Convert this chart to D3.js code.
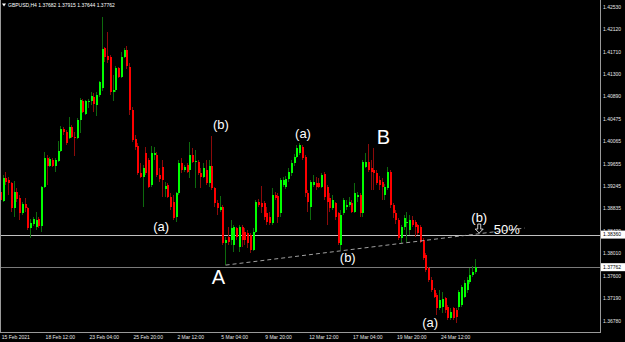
<!DOCTYPE html>
<html>
<head>
<meta charset="utf-8">
<script src="https://cdn.jsdelivr.net/npm/d3@7"></script>
<style>
  html, body { margin: 0; padding: 0; background: #000; }
  svg { display: block; }
  text { font-family: "Liberation Sans", Arial, sans-serif; }
</style>
</head>
<body>
<div id="chart"></div>
<script>
// GBPUSD H4, one value per bar (bar 0 = 15 Feb 2021 20:00)
var open = [
  1.3914,1.3898,1.3940,1.3936,1.3931,1.3885,1.3914,1.3903,1.3876,1.3892,
  1.3885,1.3848,1.3855,1.3850,1.3865,1.3852,1.3923,1.3977,1.3962,1.3973,
  1.3962,1.3971,1.3989,1.4030,1.4024,1.4013,1.4033,1.4015,1.4013,1.4046,
  1.4081,1.4057,1.4079,1.4081,1.4088,1.4074,1.4092,1.4105,1.4178,1.4164,
  1.4162,1.4098,1.4101,1.4142,1.4125,1.4162,1.4175,1.4143,1.4065,1.4011,
  1.3999,1.3949,1.3942,1.3986,1.3973,1.3927,1.3982,1.3982,1.3945,1.3960,
  1.3920,1.3927,1.3905,1.3896,1.3868,1.3912,1.3967,1.3955,1.3964,1.3955,
  1.3982,1.3969,1.3969,1.3949,1.3942,1.3955,1.3931,1.3962,1.3921,1.3894,
  1.3881,1.3887,1.3821,1.3832,1.3826,1.3817,1.3848,1.3813,1.3850,1.3841,
  1.3839,1.3835,1.3808,1.3841,1.3896,1.3894,1.3894,1.3876,1.3868,1.3857,
  1.3909,1.3907,1.3876,1.3927,1.3923,1.3938,1.3949,1.3967,1.3978,1.3986,
  1.3997,1.3978,1.3912,1.3887,1.3927,1.3931,1.3931,1.3923,1.3947,1.3923,
  1.3903,1.3885,1.3894,1.3876,1.3817,1.3876,1.3887,1.3890,1.3894,1.3877,
  1.3905,1.3909,1.3876,1.3960,1.3969,1.3958,1.3955,1.3949,1.3936,1.3932,
  1.3909,1.3921,1.3951,1.3890,1.3876,1.3863,1.3830,1.3850,1.3857,1.3844,
  1.3863,1.3859,1.3854,1.3850,1.3826,1.3799,1.3775,1.3753,1.3734,1.3725,
  1.3701,1.3703,1.3720,1.3703,1.3683,1.3701,1.3698,1.3703,1.3707,1.3722,
  1.3734,1.3749,1.3762,1.37682];
var high = [
  1.3918,1.3945,1.3951,1.3942,1.3932,1.3934,1.3921,1.3909,1.3896,1.3903,
  1.3887,1.3865,1.3868,1.3877,1.3868,1.3925,1.3988,1.3982,1.3978,1.3977,
  1.3977,1.4008,1.4035,1.4033,1.4028,1.4052,1.4037,1.4024,1.4050,1.4087,
  1.4085,1.4083,1.4085,1.4098,1.4096,1.4098,1.4118,1.4235,1.4180,1.4208,
  1.4166,1.4129,1.4145,1.4143,1.4171,1.4178,1.4182,1.4151,1.4070,1.4019,
  1.4004,1.3967,1.3964,1.3997,1.3977,1.3999,1.3997,1.3988,1.3958,1.3973,
  1.3932,1.3931,1.3912,1.3909,1.3914,1.3973,1.3977,1.3964,1.3967,1.4006,
  1.3995,1.3991,1.3973,1.3958,1.3967,1.3973,1.3973,1.4017,1.3923,1.3899,
  1.3907,1.3890,1.3832,1.3850,1.3863,1.3854,1.3850,1.3854,1.3854,1.3848,
  1.3844,1.3839,1.3848,1.3899,1.3901,1.3925,1.3898,1.3887,1.3877,1.3921,
  1.3914,1.3912,1.3940,1.3942,1.3943,1.3958,1.3973,1.3984,1.4000,1.4004,
  1.4000,1.3982,1.3918,1.3936,1.3945,1.3942,1.3940,1.3949,1.3951,1.3927,
  1.3912,1.3909,1.3896,1.3877,1.3881,1.3903,1.3899,1.3905,1.3899,1.3931,
  1.3914,1.3912,1.3973,1.3986,1.4002,1.3973,1.3995,1.3955,1.3943,1.3940,
  1.3929,1.3960,1.3955,1.3894,1.3881,1.3866,1.3854,1.3872,1.3877,1.3872,
  1.3870,1.3863,1.3855,1.3854,1.3830,1.3802,1.3776,1.3758,1.3738,1.3729,
  1.3734,1.3731,1.3722,1.3707,1.3701,1.3703,1.3701,1.3734,1.3743,1.3753,
  1.3758,1.3775,1.3778,1.37915];
var low = [
  1.3896,1.3896,1.3927,1.3909,1.3877,1.3868,1.3896,1.3863,1.3872,1.3877,
  1.3844,1.3830,1.3852,1.3844,1.3848,1.3841,1.3921,1.3927,1.3960,1.3960,
  1.3951,1.3969,1.3988,1.4019,1.4000,1.4011,1.4013,1.3980,1.4011,1.4022,
  1.4059,1.4055,1.4068,1.4074,1.4061,1.4054,1.4088,1.4099,1.4153,1.4151,
  1.4092,1.4081,1.4098,1.4123,1.4123,1.4160,1.4140,1.4055,1.4006,1.3991,
  1.3945,1.3940,1.3887,1.3945,1.3921,1.3923,1.3973,1.3942,1.3932,1.3905,
  1.3905,1.3903,1.3881,1.3863,1.3859,1.3909,1.3949,1.3951,1.3949,1.3940,
  1.3967,1.3921,1.3945,1.3921,1.3940,1.3927,1.3923,1.3918,1.3887,1.3872,
  1.3877,1.3817,1.3780,1.3817,1.3817,1.3804,1.3826,1.3804,1.3813,1.3817,
  1.3811,1.3802,1.3806,1.3839,1.3887,1.3876,1.3863,1.3854,1.3854,1.3854,
  1.3899,1.3857,1.3868,1.3923,1.3920,1.3932,1.3943,1.3962,1.3977,1.3982,
  1.3973,1.3905,1.3877,1.3863,1.3923,1.3918,1.3921,1.3921,1.3899,1.3854,
  1.3877,1.3881,1.3863,1.3817,1.3808,1.3872,1.3881,1.3887,1.3876,1.3876,
  1.3896,1.3868,1.3868,1.3958,1.3951,1.3918,1.3918,1.3927,1.3918,1.3899,
  1.3899,1.3918,1.3885,1.3866,1.3855,1.3826,1.3821,1.3844,1.3822,1.3835,
  1.3850,1.3832,1.3835,1.3821,1.3789,1.3767,1.3749,1.3731,1.3720,1.3688,
  1.3698,1.3692,1.3692,1.3679,1.3679,1.3679,1.3674,1.3698,1.3703,1.3720,
  1.3729,1.3745,1.3758,1.37644];
var close = [
  1.3899,1.3940,1.3932,1.3931,1.3885,1.3914,1.3901,1.3876,1.3892,1.3885,
  1.3848,1.3857,1.3865,1.3863,1.3852,1.3923,1.3977,1.3962,1.3975,1.3962,
  1.3973,1.3989,1.4030,1.4024,1.4004,1.4033,1.4015,1.4013,1.4046,1.4083,
  1.4061,1.4081,1.4081,1.4090,1.4076,1.4092,1.4116,1.4177,1.4162,1.4156,
  1.4098,1.4101,1.4142,1.4125,1.4162,1.4175,1.4145,1.4065,1.4010,1.3997,
  1.3949,1.3942,1.3958,1.3949,1.3923,1.3986,1.3986,1.3945,1.3938,1.3936,
  1.3925,1.3905,1.3887,1.3866,1.3912,1.3967,1.3955,1.3960,1.3951,1.3982,
  1.3969,1.3971,1.3949,1.3942,1.3958,1.3931,1.3962,1.3921,1.3894,1.3885,
  1.3887,1.3821,1.3826,1.3822,1.3848,1.3850,1.3832,1.3850,1.3826,1.3826,
  1.3821,1.3808,1.3841,1.3896,1.3890,1.3887,1.3868,1.3859,1.3857,1.3909,
  1.3903,1.3868,1.3936,1.3936,1.3938,1.3951,1.3967,1.3978,1.3995,1.4000,
  1.3977,1.3912,1.3896,1.3932,1.3932,1.3923,1.3923,1.3945,1.3905,1.3896,
  1.3885,1.3899,1.3868,1.3821,1.3872,1.3899,1.3890,1.3896,1.3877,1.3912,
  1.3909,1.3876,1.3969,1.3969,1.3955,1.3951,1.3949,1.3931,1.3927,1.3923,
  1.3923,1.3951,1.3890,1.3876,1.3863,1.3830,1.3850,1.3866,1.3859,1.3863,
  1.3854,1.3850,1.3839,1.3822,1.3793,1.3771,1.3753,1.3734,1.3722,1.3701,
  1.3716,1.3718,1.3698,1.3683,1.3694,1.3683,1.3685,1.3731,1.3740,1.3747,
  1.3753,1.3762,1.3768,1.37762];

var timeLabels = ['15 Feb 2021','18 Feb 12:00','23 Feb 04:00','25 Feb 20:00','2 Mar 12:00',
  '5 Mar 04:00','9 Mar 20:00','12 Mar 12:00','17 Mar 04:00','19 Mar 20:00','24 Mar 12:00'];
var timeLabelBars = [0,16,32,48,64,80,96,112,128,144,160];

var priceTicks = [1.42530,1.42120,1.41710,1.41300,1.40890,1.40475,1.40065,1.39655,
  1.39245,1.38835,1.38420,1.38010,1.37600,1.37190,1.36780];

var levelLine = 1.38360;      // horizontal line object
var bidLine = 1.37762;        // current price line

// trend line from A through the (b) low
var trendBars = [82, 191];
var trendPrices = [1.3780, 1.3848];

// wave labels: text, bar, price of baseline, size
var waveText  = ['(b)','(a)','B','A','(a)','(b)','(b)','50%','(a)'];
var waveBar   = [80.3, 110.2, 139.5, 79.4, 58.5, 126.5, 174.4, 184.4, 156.5];
var wavePrice = [1.4030, 1.4013, 1.4002, 1.3745, 1.3843, 1.3786, 1.3859, 1.3837, 1.3666];
var waveSize  = [13, 13, 20, 20, 13, 13, 13, 13, 13];

var W = 625, H = 342, plotR = 600, plotB = 332;

var svg = d3.select('#chart').append('svg')
    .attr('width', W).attr('height', H)
    .style('background', '#000');

var x = d3.scaleLinear().domain([0, 173]).range([0.5, 475.4]);
var y = d3.scaleLinear().domain([1.36780, 1.42530]).range([320.7, 7.3]);

svg.append('clipPath').attr('id', 'plot')
  .append('rect').attr('x', 1).attr('y', 0).attr('width', plotR - 1).attr('height', plotB);

var plot = svg.append('g').attr('clip-path', 'url(#plot)');

// horizontal lines
plot.append('line')
    .attr('x1', 0).attr('x2', plotR)
    .attr('y1', Math.round(y(levelLine)) + 0.5).attr('y2', Math.round(y(levelLine)) + 0.5)
    .attr('stroke', '#c0c0c0').attr('stroke-width', 1);
plot.append('line')
    .attr('x1', 0).attr('x2', plotR)
    .attr('y1', Math.round(y(bidLine)) + 0.5).attr('y2', Math.round(y(bidLine)) + 0.5)
    .attr('stroke', '#7a7a7a').attr('stroke-width', 1);

//candles
var bars = d3.range(open.length);
var candle = plot.selectAll('.candle')
  .data(bars)
  .enter()
  .append('g')
    .classed('candle', 1)
    .attr('shape-rendering', 'crispEdges');

candle.append('line')
    .attr('x1', function(i){ return Math.floor(x(i)) + 0.5; })
    .attr('x2', function(i){ return Math.floor(x(i)) + 0.5; })
    .attr('y1', function(i){ return y(high[i]); })
    .attr('y2', function(i){ return y(low[i]); })
    .attr('stroke', function(i){ return close[i] >= open[i] ? '#0d6a0d' : '#8c0a0a'; });

candle.append('rect')
    .attr('x', function(i){ return Math.floor(x(i)); })
    .attr('width', 2)
    .attr('y', function(i){ return y(Math.max(open[i], close[i])); })
    .attr('height', function(i){ return Math.max(1, Math.abs(y(open[i]) - y(close[i]))); })
    .attr('fill', function(i){ return close[i] >= open[i] ? '#00ff00' : '#ff0000'; });

// dashed trend line
plot.append('line')
    .attr('x1', x(trendBars[0])).attr('y1', y(trendPrices[0]))
    .attr('x2', x(trendBars[1])).attr('y2', y(trendPrices[1]))
    .attr('stroke', '#a0a0a0').attr('stroke-width', 1)
    .attr('stroke-dasharray', '4,3');

// wave labels
plot.selectAll('.wave')
  .data(waveText)
  .enter()
  .append('text')
    .classed('wave', 1)
    .attr('x', function(d, i){ return x(waveBar[i]); })
    .attr('y', function(d, i){ return y(wavePrice[i]); })
    .attr('text-anchor', 'middle')
    .attr('font-size', function(d, i){ return waveSize[i]; })
    .attr('fill', '#fff')
    .text(function(d){ return d; });

// small hollow arrow under the right (b)
var ax = x(174.4), ay = y(1.3859);
plot.append('path')
    .attr('d', 'M' + (ax - 1.5) + ',' + (ay + 2) + 'v5h-2.5l4,4l4,-4h-2.5v-5z')
    .attr('fill', 'none').attr('stroke', '#fff').attr('stroke-width', 0.8);

// frame
svg.append('path')
    .attr('d', 'M0.5,0V' + (plotB + 0.5) + 'H' + (plotR + 0.5) + 'V0')
    .attr('fill', 'none').attr('stroke', '#9a9a9a').attr('shape-rendering', 'crispEdges');

// price axis
svg.selectAll('.ptick')
  .data(priceTicks)
  .enter()
  .append('text')
    .classed('ptick', 1)
    .attr('x', 603)
    .attr('y', function(d){ return y(d) + 1.8; })
    .attr('font-size', 5)
    .attr('fill', '#e6e6e6')
    .text(function(d){ return d.toFixed(5); });

[levelLine, bidLine].forEach(function(v){
  var g = svg.append('g');
  g.append('rect')
      .attr('x', 601).attr('y', y(v) - 4)
      .attr('width', 24).attr('height', 8)
      .attr('fill', '#fff');
  g.append('text')
      .attr('x', 603).attr('y', y(v) + 1.8)
      .attr('font-size', 5).attr('fill', '#000')
      .text(v.toFixed(5));
});

// time axis
svg.selectAll('.ttick')
  .data(timeLabels)
  .enter()
  .append('text')
    .classed('ttick', 1)
    .attr('x', function(d, i){ return x(timeLabelBars[i]) + 1.2; })
    .attr('y', 338.5)
    .attr('font-size', 5)
    .attr('fill', '#e6e6e6')
    .text(function(d){ return d; });

// header
var last = open.length - 1;
svg.append('path').attr('d', 'M2,3.5h4l-2,3z').attr('fill', '#fff');
svg.append('text')
    .attr('x', 8).attr('y', 7)
    .attr('font-size', 5).attr('fill', '#fff')
    .text('GBPUSD,H4  ' + [open[last], high[last], low[last], close[last]].map(function(v){ return v.toFixed(5); }).join(' '));
</script>
</body>
</html>
